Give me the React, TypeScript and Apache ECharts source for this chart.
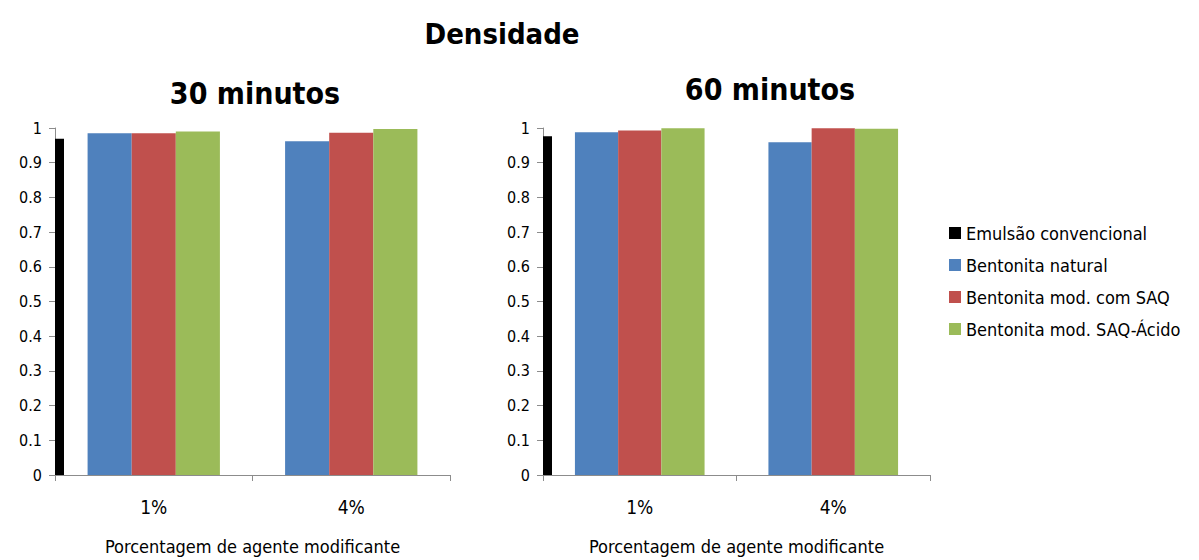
import React, { useEffect, useRef } from "react";
import * as echarts from "echarts";

const categories = ["1%", "4%"];
const seriesNames = [
  "Emulsão convencional",
  "Bentonita natural",
  "Bentonita mod. com SAQ",
  "Bentonita mod. SAQ-Ácido",
];
const colors = ["#000000", "#4F81BD", "#C0504D", "#9BBB59"];

// Densidade após 30 minutos
const emulsao30 = 0.969;
const natural30 = [0.985, 0.962];
const saq30 = [0.985, 0.986];
const saqAcido30 = [0.99, 0.997];

// Densidade após 60 minutos
const emulsao60 = 0.976;
const natural60 = [0.988, 0.959];
const saq60 = [0.993, 0.999];
const saqAcido60 = [0.999, 0.998];

const yTicks = { min: 0, max: 1, interval: 0.1 };

const FONT = "'DejaVu Sans Condensed', 'DejaVu Sans', sans-serif";

// Thin black bar drawn at the left edge of the first category band
const edgeBar = (params: any, api: any) => {
  const top = api.coord([api.value(0), api.value(1)]);
  const base = api.coord([api.value(0), 0]);
  const band = api.size([1, 0])[0];
  const x = top[0] - band / 2;
  return {
    type: "rect",
    shape: { x, y: top[1], width: 9, height: base[1] - top[1] },
    style: { fill: colors[0] },
  };
};

export default function App() {
  const ref = useRef<HTMLDivElement>(null);

  useEffect(() => {
    if (!ref.current) return;
    const chart = echarts.init(ref.current, undefined, { renderer: "svg" });

    const axisLine = { lineStyle: { color: "#8c8c8c", width: 1 } };
    const xAxis = (gridIndex: number) => ({
      type: "category",
      gridIndex,
      data: categories,
      name: "Porcentagem de agente modificante",
      nameLocation: "middle",
      nameGap: 62,
      nameTextStyle: { fontFamily: FONT, fontSize: 18, color: "#000" },
      axisLine,
      axisTick: { show: true, length: 6, lineStyle: { color: "#8c8c8c" } },
      axisLabel: { fontFamily: FONT, fontSize: 19, color: "#000", margin: 22 },
    });
    const yAxis = (gridIndex: number) => ({
      type: "value",
      gridIndex,
      ...yTicks,
      axisLine: { show: true, ...axisLine },
      axisTick: { show: true, length: 6, lineStyle: { color: "#8c8c8c" } },
      splitLine: { show: false },
      axisLabel: { fontFamily: FONT, fontSize: 16, color: "#000", margin: 13 },
    });

    const bars = (name: string, data: number[], idx: number, color: string) => ({
      type: "bar",
      name,
      xAxisIndex: idx,
      yAxisIndex: idx,
      data,
      barGap: "0%",
      barCategoryGap: "33%",
      itemStyle: { color },
    });

    const emulsao = (value: number, idx: number) => ({
      type: "custom",
      name: seriesNames[0],
      xAxisIndex: idx,
      yAxisIndex: idx,
      data: [[0, value]],
      encode: { x: 0, y: 1 },
      renderItem: edgeBar,
      itemStyle: { color: colors[0] },
    });

    chart.setOption({
      animation: false,
      backgroundColor: "#ffffff",
      title: [
        {
          text: "Densidade",
          left: 497,
          top: 14,
          textAlign: "center",
          textStyle: { fontFamily: FONT, fontSize: 29, fontWeight: "bold", color: "#000" },
        },
        {
          text: "30 minutos",
          left: 250,
          top: 73,
          textAlign: "center",
          textStyle: { fontFamily: FONT, fontSize: 30, fontWeight: "bold", color: "#000" },
        },
        {
          text: "60 minutos",
          left: 765,
          top: 69,
          textAlign: "center",
          textStyle: { fontFamily: FONT, fontSize: 30, fontWeight: "bold", color: "#000" },
        },
      ],
      legend: {
        orient: "vertical",
        left: 944,
        top: 219,
        itemWidth: 12,
        itemHeight: 12,
        itemGap: 14,
        icon: "rect",
        data: seriesNames,
        textStyle: { fontFamily: FONT, fontSize: 18, color: "#000" },
      },
      grid: [
        { left: 55, right: 749, top: 128, bottom: 81 },
        { left: 543, right: 269, top: 128, bottom: 79 },
      ],
      xAxis: [xAxis(0), xAxis(1)],
      yAxis: [yAxis(0), yAxis(1)],
      series: [
        emulsao(emulsao30, 0),
        bars(seriesNames[1], natural30, 0, colors[1]),
        bars(seriesNames[2], saq30, 0, colors[2]),
        bars(seriesNames[3], saqAcido30, 0, colors[3]),
        emulsao(emulsao60, 1),
        bars(seriesNames[1], natural60, 1, colors[1]),
        bars(seriesNames[2], saq60, 1, colors[2]),
        bars(seriesNames[3], saqAcido60, 1, colors[3]),
      ],
    });

    return () => chart.dispose();
  }, []);

  return (
    <div
      ref={ref}
      style={{ position: "fixed", left: 0, top: 0, width: 1199, height: 560, background: "#fff" }}
    />
  );
}
